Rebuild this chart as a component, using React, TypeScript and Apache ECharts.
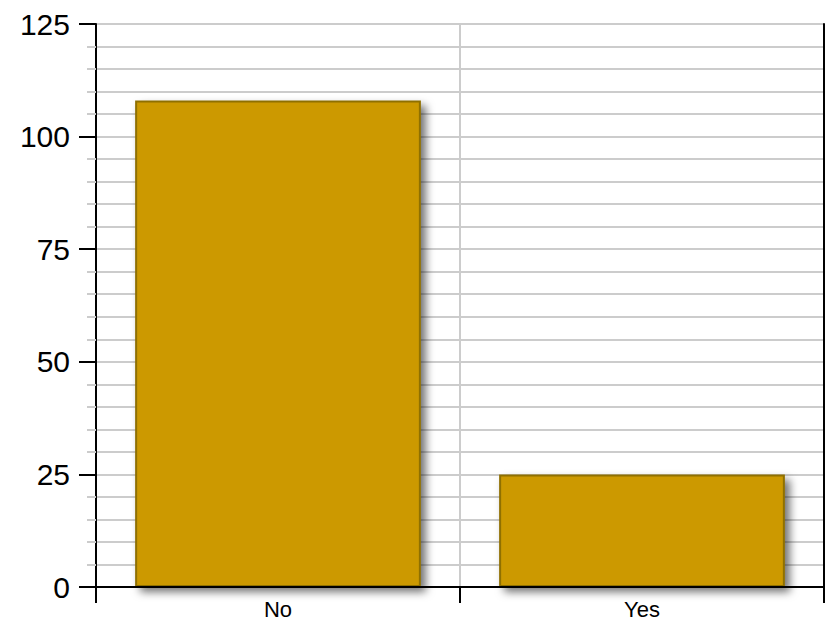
import React, { useEffect, useRef } from "react";
import * as echarts from "echarts";

const categories = ["No", "Yes"];
const values = [108, 25];
const yMin = 0;
const yMax = 125;
const yInterval = 25;

export default function App() {
  const ref = useRef<HTMLDivElement>(null);
  useEffect(() => {
    if (!ref.current) return;
    const chart = echarts.init(ref.current, null, { renderer: "svg" });
    const font = "'Liberation Sans', Arial, sans-serif";
    chart.setOption({
      animation: false,
      backgroundColor: "#ffffff",
      grid: { left: 96, right: 8, top: 24, bottom: 35, containLabel: false },
      xAxis: [
        {
          type: "category",
          data: categories,
          position: "bottom",
          boundaryGap: true,
          axisLine: { show: true, lineStyle: { color: "#000", width: 2 } },
          axisTick: { show: true, alignWithLabel: false, length: 16, lineStyle: { color: "#000", width: 2 } },
          axisLabel: { color: "#000", fontSize: 22, fontFamily: font, margin: 11 },
          splitLine: { show: true, lineStyle: { color: "#cccccc", width: 2 } },
          z: 1,
        },
        {
          type: "category",
          data: categories,
          position: "top",
          axisLine: { show: true, lineStyle: { color: "#000", width: 2 } },
          axisTick: { show: false },
          axisLabel: { show: false },
          splitLine: { show: false },
          z: 4,
        },
      ],
      yAxis: [
        {
          type: "value",
          min: yMin,
          max: yMax,
          interval: yInterval,
          position: "left",
          axisLine: { show: true, lineStyle: { color: "#000", width: 2 } },
          axisTick: { show: true, length: 17, lineStyle: { color: "#000", width: 2 } },
          minorTick: { show: true, splitNumber: 5, length: 9, lineStyle: { color: "#cccccc", width: 2 } },
          minorSplitLine: { show: true, lineStyle: { color: "#cccccc", width: 2 } },
          splitLine: { show: true, lineStyle: { color: "#cccccc", width: 2 } },
          axisLabel: { color: "#000", fontSize: 30, fontFamily: font, margin: 26 },
          z: 1,
        },
        {
          type: "value",
          min: yMin,
          max: yMax,
          interval: yInterval,
          position: "right",
          axisLine: { show: true, lineStyle: { color: "#000", width: 2 } },
          axisTick: { show: false },
          axisLabel: { show: false },
          splitLine: { show: false },
          z: 4,
        },
      ],
      series: [
        {
          type: "bar",
          data: values,
          barWidth: "78.5%",
          itemStyle: {
            color: "#cc9900",
            borderColor: "#8f6f00",
            borderWidth: 2,
            shadowColor: "rgba(0,0,0,0.55)",
            shadowBlur: 8,
            shadowOffsetX: 5,
            shadowOffsetY: 5,
          },
          z: 2,
        },
      ],
    });
    return () => chart.dispose();
  }, []);
  return (
    <div
      ref={ref}
      style={{ position: "fixed", left: 0, top: 0, width: 832, height: 622 }}
    />
  );
}
